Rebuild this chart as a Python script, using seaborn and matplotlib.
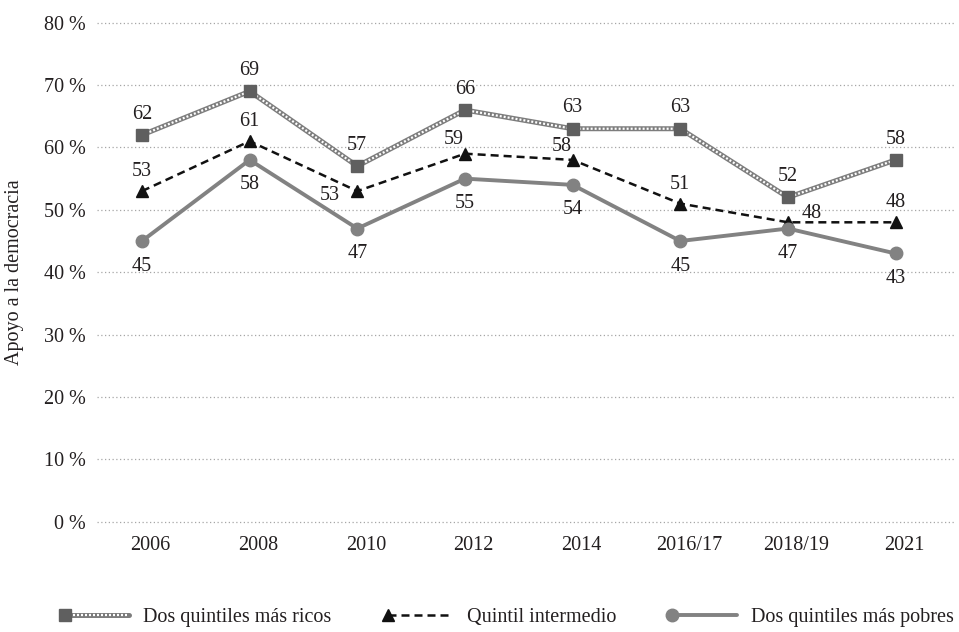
import numpy as np
import pandas as pd
import matplotlib
matplotlib.use("Agg")
import matplotlib.pyplot as plt
import seaborn as sns
from matplotlib.lines import Line2D
from matplotlib.legend_handler import HandlerLine2D, HandlerTuple

# Survey waves and support for democracy (%) by income group
waves = ["2006", "2008", "2010", "2012", "2014", "2016/17", "2018/19", "2021"]
ricos = [62, 69, 57, 66, 63, 63, 52, 58]
intermedio = [53, 61, 53, 59, 58, 51, 48, 48]
pobres = [45, 58, 47, 55, 54, 45, 47, 43]
y_ticks = [0, 10, 20, 30, 40, 50, 60, 70, 80]

serie_ricos = "Dos quintiles más ricos"
serie_inter = "Quintil intermedio"
serie_pobres = "Dos quintiles más pobres"

df = pd.DataFrame({
    "pos": np.arange(len(waves)),
    "ricos": ricos,
    "intermedio": intermedio,
    "pobres": pobres,
})

sns.set_theme(style="white")
plt.rcParams["font.family"] = ["Liberation Serif", "DejaVu Serif"]
FS = 14.5
TXT = "#231f20"

fig = plt.figure(figsize=(9.59, 6.32), dpi=100)
ax = fig.add_axes([0.1008, 0.1745, 0.8955, 0.7896])

GRAY_RICH = "#7d7d7d"
GRAY_SQ = "#5f5f5f"
GRAY_POOR = "#828282"
CHAIN = (0.9, 0.9)
DASH = (3.2, 2.0)

# horizontal dotted grid
for v in y_ticks:
    ax.axhline(v, color="#a6a6a6", lw=0.9, ls=(0, (1, 2)), zorder=0,
               clip_on=False)

# richest quintiles: chain-like line (gray band with white links)
sns.lineplot(data=df, x="pos", y="ricos", ax=ax, color=GRAY_RICH, lw=3.6,
             legend=False, zorder=2)
sns.lineplot(data=df, x="pos", y="ricos", ax=ax, color="white", lw=1.6,
             legend=False, zorder=2.1)
ax.lines[-1].set_dashes(CHAIN)
ax.plot(df["pos"], df["ricos"], ls="none", marker="s", ms=8.2,
        color=GRAY_SQ, zorder=4)

# middle quintile: black dashed
sns.lineplot(data=df, x="pos", y="intermedio", ax=ax, color="#111111",
             lw=1.8, legend=False, zorder=2.2)
ax.lines[-1].set_dashes(DASH)
ax.plot(df["pos"], df["intermedio"], ls="none", marker="^", ms=8.8,
        color="#111111", zorder=4)

# poorest quintiles: solid gray
sns.lineplot(data=df, x="pos", y="pobres", ax=ax, color=GRAY_POOR, lw=2.8,
             legend=False, zorder=2.3)
ax.plot(df["pos"], df["pobres"], ls="none", marker="o", ms=9.0,
        color=GRAY_POOR, zorder=4)

# value labels
def label(x, y, dx, dy):
    ax.annotate(f"{y:g}", (x, y), xytext=(dx, dy), textcoords="offset points",
                ha="center", va="center", fontsize=FS, color=TXT, zorder=5)

inter_offsets = {2: (-19.5, -3), 3: (-8, 10), 4: (-8, 10), 6: (17, 6)}
for i in range(len(waves)):
    label(i, ricos[i], 0, 15)
    dx, dy = inter_offsets.get(i, (0, 14))
    label(i, intermedio[i], dx, dy)
    label(i, pobres[i], 0, -18)

ax.set_xlim(-0.421, 7.556)
ax.set_ylim(0, 80)
ax.set_xticks(np.arange(len(waves)) + 0.08, waves)
ax.set_yticks(y_ticks, [f"{v} %" for v in y_ticks])
ax.tick_params(axis="both", length=0, labelsize=FS, colors=TXT)
ax.tick_params(axis="y", pad=8)
ax.tick_params(axis="x", pad=10)
ax.set_xlabel("")
ax.set_ylabel("")
for s in ax.spines.values():
    s.set_visible(False)
ax.grid(False)

fig.text(15 / 959, 0.5696, "Apoyo a la democracia", rotation=90,
         ha="center", va="center", fontsize=FS, color=TXT)


class MarkerAtStart(HandlerLine2D):
    """Legend handler drawing the marker at the left end of the line."""
    def create_artists(self, legend, orig_handle, xdescent, ydescent,
                       width, height, fontsize, trans):
        arts = super().create_artists(legend, orig_handle, xdescent,
                                      ydescent, width, height, fontsize,
                                      trans)
        x0 = -xdescent
        r = 0.28 * fontsize
        for a in arts:
            y = a.get_ydata()[0]
            a.set_data([x0 + r, x0 + width], [y, y])
            a.set_markevery([0])
        return arts


h_rich = (
    Line2D([], [], color=GRAY_RICH, lw=3.6),
    Line2D([], [], color="white", lw=1.6, dashes=CHAIN),
    Line2D([], [], ls="none", marker="s", ms=8.2, color=GRAY_SQ),
)
h_inter = Line2D([], [], color="#111111", lw=1.8, dashes=DASH,
                 marker="^", ms=8.8)
h_poor = Line2D([], [], color=GRAY_POOR, lw=2.8, marker="o", ms=9.0)

fig.legend([h_rich, h_inter, h_poor], [serie_ricos, serie_inter, serie_pobres],
           loc="center", bbox_to_anchor=(0.528, 1 - 617 / 632), ncol=3,
           frameon=False, fontsize=FS, handlelength=3.5, handletextpad=0.7,
           columnspacing=2.5, labelcolor=TXT,
           handler_map={Line2D: MarkerAtStart(),
                        tuple: HandlerTuple(ndivide=1, pad=0)})

fig.savefig("out.png", dpi=100)
